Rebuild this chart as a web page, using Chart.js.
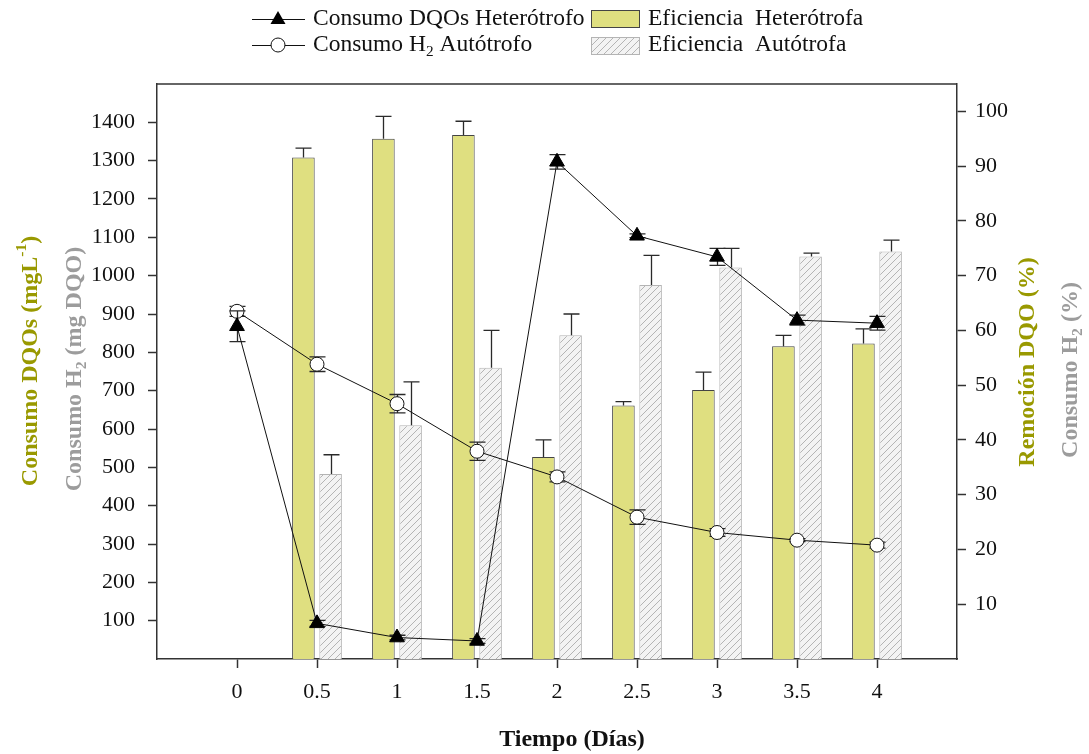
<!DOCTYPE html>
<html>
<head>
<meta charset="utf-8">
<script src="https://cdn.jsdelivr.net/npm/chart.js@4.4.1/dist/chart.umd.min.js"></script>
<style>
html, body { margin: 0; padding: 0; background: #fff; }
#wrap { width: 1089px; height: 754px; }
</style>
</head>
<body>
<div id="wrap"><canvas id="grafico" width="1089" height="754"></canvas></div>
<script>
// --- datos ---
const tiempo = [0, 0.5, 1, 1.5, 2, 2.5, 3, 3.5, 4];
const tiempoBarras = [0.5, 1, 1.5, 2, 2.5, 3, 3.5, 4];

// Consumo DQOs heterotrofo (mg/L) - eje izquierdo
const dqoHet = [868, 93, 56, 47, 1297, 1104, 1049, 884, 876];
const dqoHetErr = [40, 8, 6, 6, 19, 5, 22, 13, 18];

// Consumo H2 autotrofo (mg DQO) - eje izquierdo
const h2Aut = [907, 769, 666, 542, 475, 370, 330, 310, 297];
const h2AutErr = [13, 19, 24, 24, 13, 19, 10, 4, 8];

// Eficiencias (%) - eje derecho
const efHet = [91.6, 95.0, 95.7, 36.9, 46.3, 49.1, 57.1, 57.6];
const efHetErr = [1.7, 4.1, 2.5, 3.1, 0.7, 3.3, 2.0, 2.7];
const efAut = [33.8, 42.7, 53.2, 59.1, 68.3, 71.5, 73.5, 74.4];
const efAutErr = [3.5, 7.9, 6.8, 3.9, 5.4, 3.5, 0.6, 2.1];

// ticks
const xTicks = [0, 0.5, 1, 1.5, 2, 2.5, 3, 3.5, 4];
const leftTicks = [100, 200, 300, 400, 500, 600, 700, 800, 900, 1000, 1100, 1200, 1300, 1400];
const rightTicks = [10, 20, 30, 40, 50, 60, 70, 80, 90, 100];

const FONT = '"Liberation Serif", "Times New Roman", serif';
const OLIVA = '#999900';
const GRIS = '#9c9c9c';
const AMARILLO = '#dfdf80';

// patron rayado para las barras autotrofas
function rayado() {
    const c = document.createElement('canvas');
    c.width = 7; c.height = 7;
    const g = c.getContext('2d');
    g.fillStyle = '#f3f3f3';
    g.fillRect(0, 0, 7, 7);
    g.strokeStyle = '#b4b4b4';
    g.lineWidth = 1;
    g.beginPath();
    g.moveTo(-1, 8); g.lineTo(8, -1);
    g.moveTo(-1, 1); g.lineTo(1, -1);
    g.moveTo(6, 8); g.lineTo(8, 6);
    g.stroke();
    return document.getElementById('grafico').getContext('2d').createPattern(c, 'repeat');
}
const patron = rayado();

// texto con subindices / superindices
function anchoRico(ctx, partes, size, peso) {
    let w = 0;
    partes.forEach(p => {
        const s = p[1] ? size * 0.65 : size;
        ctx.font = peso + ' ' + s + 'px ' + FONT;
        w += ctx.measureText(p[0]).width;
    });
    return w;
}
function textoRico(ctx, partes, x, y, size, peso, color) {
    ctx.fillStyle = color;
    ctx.textBaseline = 'middle';
    ctx.textAlign = 'left';
    partes.forEach(p => {
        const s = p[1] ? size * 0.65 : size;
        let dy = 0;
        if (p[1] === 'sub') dy = size * 0.3;
        if (p[1] === 'sup') dy = -size * 0.38;
        ctx.font = peso + ' ' + s + 'px ' + FONT;
        ctx.fillText(p[0], x, y + dy);
        x += ctx.measureText(p[0]).width;
    });
}
function tituloVertical(ctx, partes, cx, cy, size, color) {
    ctx.save();
    ctx.translate(cx, cy);
    ctx.rotate(-Math.PI / 2);
    const w = anchoRico(ctx, partes, size, 'bold');
    textoRico(ctx, partes, -w / 2, 0, size, 'bold', color);
    ctx.restore();
}

const errorBars = {
    id: 'errorBars',
    beforeDatasetDraw(chart, args) {
        const ds = chart.data.datasets[args.index];
        if (ds.type === 'line') dibujarError(chart, args, ds, true);
    },
    afterDatasetDraw(chart, args) {
        const ds = chart.data.datasets[args.index];
        if (ds.type === 'bar') dibujarError(chart, args, ds, false);
    }
};
function dibujarError(chart, args, ds, ambos) {
    const ctx = chart.ctx;
    const ys = chart.scales[ds.yAxisID];
    const cap = 8;
    ctx.save();
    ctx.strokeStyle = '#2a2a2a';
    ctx.lineWidth = 1.3;
    args.meta.data.forEach((el, i) => {
        const v = ds.data[i].y, e = ds.errores[i];
        const x = Math.round(el.x) + 0.5;
        const arriba = ys.getPixelForValue(v + e);
        const abajo = ambos ? ys.getPixelForValue(v - e) : ys.getPixelForValue(v);
        ctx.beginPath();
        ctx.moveTo(x, arriba); ctx.lineTo(x, abajo);
        ctx.moveTo(x - cap, arriba); ctx.lineTo(x + cap, arriba);
        if (ambos) { ctx.moveTo(x - cap, abajo); ctx.lineTo(x + cap, abajo); }
        ctx.stroke();
    });
    ctx.restore();
}

const marco = {
    id: 'marco',
    afterDraw(chart) {
        const ctx = chart.ctx;
        const a = chart.chartArea;
        ctx.save();
        ctx.strokeStyle = '#333';
        ctx.lineWidth = 1.5;
        ctx.beginPath();
        ctx.moveTo(a.left, a.top); ctx.lineTo(a.right, a.top);
        ctx.stroke();

        // titulos de ejes
        tituloVertical(ctx, [['Consumo DQOs (mgL'], ['-1', 'sup'], [')']], 31, 361, 24, OLIVA);
        tituloVertical(ctx, [['Consumo H'], ['2', 'sub'], [' (mg DQO)']], 75, 369, 24, GRIS);
        tituloVertical(ctx, [['Remoción DQO (%)']], 1028, 362, 24, OLIVA);
        tituloVertical(ctx, [['Consumo H'], ['2', 'sub'], [' (%)']], 1071, 370, 24, GRIS);
        ctx.font = 'bold 24px ' + FONT;
        ctx.fillStyle = '#111';
        ctx.textAlign = 'center';
        ctx.textBaseline = 'middle';
        ctx.fillText('Tiempo (Días)', 572, 740);

        // leyenda
        const filas = [19, 45];
        ctx.strokeStyle = '#111';
        ctx.lineWidth = 1;
        filas.forEach(y => {
            ctx.beginPath();
            ctx.moveTo(252, y + 0.5); ctx.lineTo(305, y + 0.5);
            ctx.stroke();
        });
        ctx.fillStyle = '#000';
        ctx.beginPath();
        ctx.moveTo(278, filas[0] - 8); ctx.lineTo(285.5, filas[0] + 5); ctx.lineTo(270.5, filas[0] + 5);
        ctx.closePath(); ctx.fill();
        ctx.fillStyle = '#fff';
        ctx.beginPath();
        ctx.arc(278, filas[1], 7, 0, Math.PI * 2);
        ctx.fill(); ctx.stroke();

        textoRico(ctx, [['Consumo DQOs Heterótrofo']], 313, filas[0], 23.5, 'normal', '#111');
        textoRico(ctx, [['Consumo H'], ['2', 'sub'], [' Autótrofo']], 313, filas[1], 23.5, 'normal', '#111');

        ctx.fillStyle = AMARILLO;
        ctx.fillRect(591, 10, 48, 17);
        ctx.strokeStyle = '#444';
        ctx.strokeRect(591.5, 10.5, 48, 17);
        ctx.fillStyle = patron;
        ctx.fillRect(591, 37, 48, 17);
        ctx.strokeStyle = '#b4b4b4';
        ctx.strokeRect(591.5, 37.5, 48, 17);

        textoRico(ctx, [['Eficiencia  Heterótrofa']], 648, filas[0], 23.5, 'normal', '#111');
        textoRico(ctx, [['Eficiencia  Autótrofa']], 648, filas[1], 23.5, 'normal', '#111');
        ctx.restore();
    }
};

const pares = (xs, ys) => xs.map((x, i) => ({ x: x, y: ys[i] }));

const ejeComun = {
    border: { color: '#333', width: 1.5 },
    grid: { drawOnChartArea: false, drawTicks: true, tickLength: 9, tickColor: '#333', tickWidth: 1.5, offset: false },
};

new Chart(document.getElementById('grafico'), {
    data: {
        datasets: [
            {
                type: 'line',
                label: 'Consumo DQOs Heterótrofo',
                data: pares(tiempo, dqoHet),
                errores: dqoHetErr,
                xAxisID: 'x', yAxisID: 'y',
                borderColor: '#111', borderWidth: 1,
                pointStyle: 'triangle', pointRadius: 8.5,
                pointBackgroundColor: '#000', pointBorderColor: '#000', pointBorderWidth: 1,
                order: 0
            },
            {
                type: 'line',
                label: 'Consumo H2 Autótrofo',
                data: pares(tiempo, h2Aut),
                errores: h2AutErr,
                xAxisID: 'x', yAxisID: 'y',
                borderColor: '#111', borderWidth: 1,
                pointStyle: 'circle', pointRadius: 7,
                pointBackgroundColor: '#fff', pointBorderColor: '#111', pointBorderWidth: 1,
                order: 1
            },
            {
                type: 'bar',
                label: 'Eficiencia Heterótrofa',
                data: pares(tiempoBarras, efHet),
                errores: efHetErr,
                xAxisID: 'x', yAxisID: 'y1',
                backgroundColor: AMARILLO, borderColor: '#444', borderWidth: 1,
                categoryPercentage: 0.68, barPercentage: 0.83,
                order: 2
            },
            {
                type: 'bar',
                label: 'Eficiencia Autótrofa',
                data: pares(tiempoBarras, efAut),
                errores: efAutErr,
                xAxisID: 'x', yAxisID: 'y1',
                backgroundColor: patron, borderColor: '#b4b4b4', borderWidth: 1,
                categoryPercentage: 0.68, barPercentage: 0.83,
                order: 3
            }
        ]
    },
    options: {
        responsive: false,
        animation: false,
        layout: { padding: { top: 84, left: 0, right: 0, bottom: 0 } },
        plugins: { legend: { display: false }, tooltip: { enabled: false } },
        scales: {
            x: {
                ...ejeComun,
                type: 'linear', position: 'bottom',
                offset: false,
                min: -0.5, max: 4.5,
                afterBuildTicks: s => { s.ticks = xTicks.map(v => ({ value: v })); },
                afterFit: s => { s.height = 95; },
                ticks: { color: '#111', padding: 11, font: { family: FONT, size: 22 }, callback: v => String(v) }
            },
            y: {
                ...ejeComun,
                type: 'linear', position: 'left',
                min: 0, max: 1500,
                afterBuildTicks: s => { s.ticks = leftTicks.map(v => ({ value: v })); },
                afterFit: s => { s.width = 157; },
                ticks: { color: '#111', padding: 13, font: { family: FONT, size: 22 }, callback: v => String(v) }
            },
            y1: {
                ...ejeComun,
                type: 'linear', position: 'right',
                min: 0, max: 105,
                afterBuildTicks: s => { s.ticks = rightTicks.map(v => ({ value: v })); },
                afterFit: s => { s.width = 132; },
                ticks: { color: '#111', padding: 9, font: { family: FONT, size: 22 }, callback: v => String(v) }
            }
        }
    },
    plugins: [errorBars, marco]
});
</script>
</body>
</html>
